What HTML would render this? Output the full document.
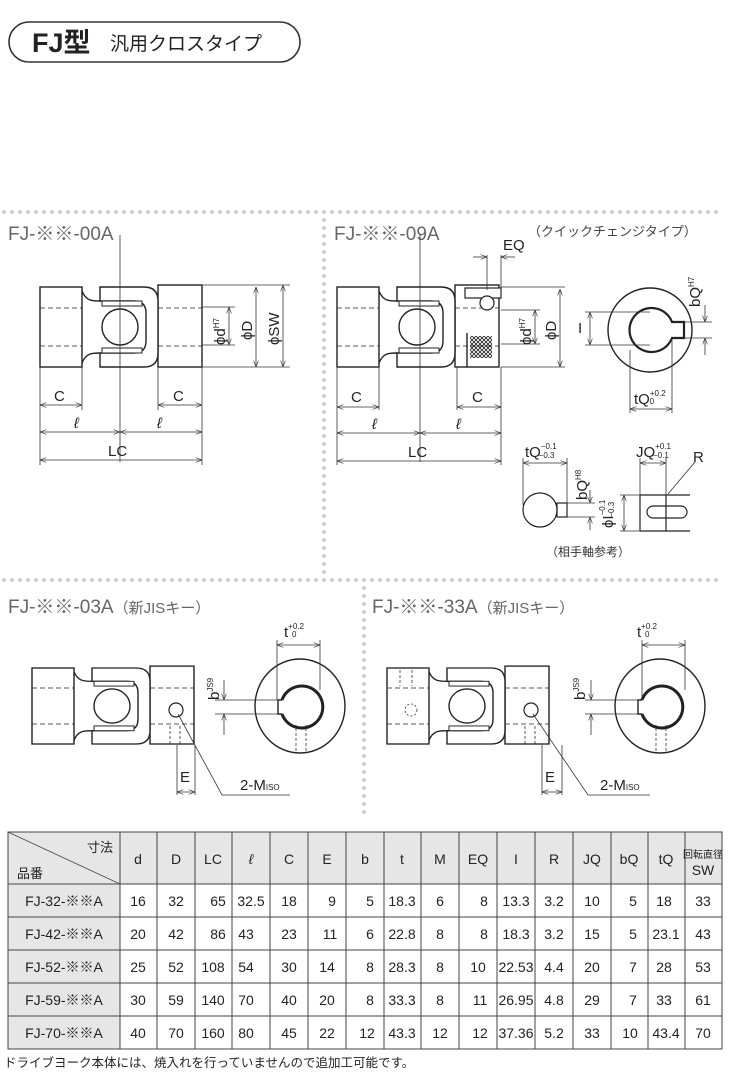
<!DOCTYPE html>
<html><head><meta charset="utf-8"><style>
body{margin:0;background:#fff;}
svg{display:block;font-family:"Liberation Sans","Noto Sans CJK JP",sans-serif;}
.t{fill:#222;font-size:15px;}
.ttl{fill:#666;font-size:19px;}
</style></head><body>
<svg width="735" height="1088" viewBox="0 0 735 1088" xmlns="http://www.w3.org/2000/svg">
<defs>
<marker id="a" markerWidth="8" markerHeight="6" refX="8" refY="3" orient="auto-start-reverse"><path d="M0,0 L8,3 L0,6" fill="none" stroke="#333" stroke-width="0.8"/></marker>
<pattern id="dh" width="8" height="8" patternUnits="userSpaceOnUse"><circle cx="4" cy="4" r="2" fill="#cfcfcf"/></pattern>
<pattern id="xh" width="4" height="4" patternUnits="userSpaceOnUse"><path d="M0,0 L4,4 M4,0 L0,4" stroke="#222" stroke-width="0.8"/></pattern>
<g id="joint" fill="none" stroke="#222" stroke-width="1.4">
<rect x="0" y="-40" width="42" height="80"/>
<path d="M42,-36 C46,-26 52,-26 60,-26 M42,36 C46,26 52,26 60,26"/>
<rect x="118" y="-42" width="44" height="82"/>
<path d="M60,-40 H104 Q118,-40 118,-26 V26 Q118,40 104,40 H60 V26 H94 Q106,26 106,14 V-14 Q106,-26 94,-26 H60 Z" fill="#fff"/>
<rect x="62" y="-26" width="40" height="5" fill="#fff" stroke-width="1"/>
<rect x="62" y="21" width="40" height="5" fill="#fff" stroke-width="1"/>
<circle cx="80" cy="0" r="18" fill="#fff"/>
<path d="M0,-19 H42 M0,19 H42 M118,-19 H162 M118,19 H162" stroke-dasharray="5,3" stroke-width="0.8"/>
</g>
</defs>

<!-- header -->
<rect x="9" y="22" width="291" height="40" rx="20" fill="none" stroke="#333" stroke-width="1.6"/>
<text x="32" y="52" style="font-size:27px;font-weight:bold" fill="#222">FJ型</text>
<text x="110" y="50" style="font-size:19px" fill="#222">汎用クロスタイプ</text>

<!-- dotted separators -->
<rect x="0" y="209" width="718" height="8" fill="url(#dh)"/>
<rect x="318" y="217" width="8" height="363" fill="url(#dh)"/>
<rect x="0" y="577" width="718" height="8" fill="url(#dh)"/>
<rect x="361" y="585" width="8" height="230" fill="url(#dh)"/>

<!-- titles -->
<text class="ttl" x="8" y="240">FJ-※※-00A</text>
<text class="ttl" x="334" y="240">FJ-※※-09A</text>
<text x="528" y="236" style="font-size:13px" fill="#444">（クイックチェンジタイプ）</text>
<text class="ttl" x="8" y="613">FJ-※※-03A<tspan style="font-size:15px">（新JISキー）</tspan></text>
<text class="ttl" x="372" y="613">FJ-※※-33A<tspan style="font-size:15px">（新JISキー）</tspan></text>

<g stroke="#333" stroke-width="0.8" fill="none">
<!-- drawing 1 -->
<use href="#joint" x="40" y="327"/>
<line x1="120" y1="235" x2="120" y2="462"/>
<line x1="202" y1="285" x2="290" y2="285"/><line x1="202" y1="367" x2="290" y2="367"/>
<line x1="202" y1="307" x2="235" y2="307"/><line x1="202" y1="345" x2="235" y2="345"/>
<line x1="229" y1="307" x2="229" y2="345" marker-start="url(#a)" marker-end="url(#a)"/>
<line x1="256" y1="287" x2="256" y2="367" marker-start="url(#a)" marker-end="url(#a)"/>
<line x1="283" y1="285" x2="283" y2="367" marker-start="url(#a)" marker-end="url(#a)"/>
<line x1="40" y1="367" x2="40" y2="465"/><line x1="82" y1="367" x2="82" y2="410"/>
<line x1="158" y1="367" x2="158" y2="410"/><line x1="202" y1="367" x2="202" y2="465"/>
<line x1="40" y1="405" x2="82" y2="405" marker-start="url(#a)" marker-end="url(#a)"/>
<line x1="158" y1="405" x2="202" y2="405" marker-start="url(#a)" marker-end="url(#a)"/>
<line x1="40" y1="432" x2="120" y2="432" marker-start="url(#a)" marker-end="url(#a)"/>
<line x1="120" y1="432" x2="202" y2="432" marker-start="url(#a)" marker-end="url(#a)"/>
<line x1="40" y1="460" x2="202" y2="460" marker-start="url(#a)" marker-end="url(#a)"/>

<!-- drawing 2 -->
<use href="#joint" x="337" y="327"/>
<rect x="465" y="288" width="36" height="10" fill="#fff" stroke="#222" stroke-width="1.2"/>
<circle cx="487" cy="303" r="7" fill="#fff" stroke="#222" stroke-width="1.2"/>
<rect x="470" y="336" width="22" height="22" fill="url(#xh)" stroke="none"/>
<line x1="467" y1="333" x2="467" y2="367" stroke="#222" stroke-width="1.4"/>
<line x1="420" y1="235" x2="420" y2="462"/>
<line x1="487" y1="255" x2="487" y2="290"/><line x1="501" y1="255" x2="501" y2="290"/>
<line x1="473" y1="257" x2="487" y2="257" marker-end="url(#a)"/><line x1="515" y1="257" x2="501" y2="257" marker-end="url(#a)"/>
<line x1="501" y1="287" x2="565" y2="287"/><line x1="501" y1="367" x2="565" y2="367"/>
<line x1="501" y1="310" x2="540" y2="310"/><line x1="501" y1="344" x2="540" y2="344"/>
<line x1="535" y1="310" x2="535" y2="344" marker-start="url(#a)" marker-end="url(#a)"/>
<line x1="560" y1="289" x2="560" y2="367" marker-start="url(#a)" marker-end="url(#a)"/>
<line x1="337" y1="367" x2="337" y2="465"/><line x1="379" y1="367" x2="379" y2="410"/>
<line x1="457" y1="367" x2="457" y2="410"/><line x1="501" y1="367" x2="501" y2="465"/>
<line x1="337" y1="407" x2="379" y2="407" marker-start="url(#a)" marker-end="url(#a)"/>
<line x1="457" y1="407" x2="501" y2="407" marker-start="url(#a)" marker-end="url(#a)"/>
<line x1="337" y1="433" x2="420" y2="433" marker-start="url(#a)" marker-end="url(#a)"/>
<line x1="420" y1="433" x2="501" y2="433" marker-start="url(#a)" marker-end="url(#a)"/>
<line x1="337" y1="461" x2="501" y2="461" marker-start="url(#a)" marker-end="url(#a)"/>
<!-- end view -->
<circle cx="650" cy="330" r="42" stroke="#222" stroke-width="1.4"/>
<path d="M672,322 A22,22 0 1 0 672,338 H684 V322 Z" stroke="#222" stroke-width="2.2" fill="#fff"/>
<line x1="585" y1="312" x2="650" y2="312"/><line x1="585" y1="345" x2="650" y2="345"/>
<line x1="590" y1="312" x2="590" y2="345" marker-start="url(#a)" marker-end="url(#a)"/>
<line x1="684" y1="322" x2="712" y2="322"/><line x1="684" y1="338" x2="712" y2="338"/>
<line x1="705" y1="305" x2="705" y2="322" marker-end="url(#a)"/><line x1="705" y1="355" x2="705" y2="338" marker-end="url(#a)"/>
<line x1="630" y1="350" x2="630" y2="413"/><line x1="672" y1="340" x2="672" y2="413"/>
<line x1="630" y1="409" x2="672" y2="409" marker-start="url(#a)" marker-end="url(#a)"/>
<!-- mating shaft -->
<circle cx="540" cy="510" r="17" stroke="#222" stroke-width="1.2"/>
<rect x="557" y="503" width="10" height="14" stroke="#222" stroke-width="1.2"/>
<line x1="523" y1="458" x2="523" y2="505"/><line x1="567" y1="458" x2="567" y2="503"/>
<line x1="523" y1="463" x2="567" y2="463" marker-start="url(#a)" marker-end="url(#a)"/>
<line x1="567" y1="503" x2="595" y2="503"/><line x1="567" y1="517" x2="595" y2="517"/>
<line x1="590" y1="490" x2="590" y2="503" marker-end="url(#a)"/><line x1="590" y1="530" x2="590" y2="517" marker-end="url(#a)"/>
<path d="M640,495 H690 M640,531 H690 M640,495 V531 M666,495 V531" stroke="#222" stroke-width="1.2"/>
<rect x="647" y="506" width="40" height="12" rx="6" stroke="#222" stroke-width="1.2"/>
<line x1="620" y1="495" x2="640" y2="495"/><line x1="620" y1="531" x2="640" y2="531"/>
<line x1="624" y1="495" x2="624" y2="531" marker-start="url(#a)" marker-end="url(#a)"/>
<line x1="640" y1="458" x2="640" y2="495"/><line x1="666" y1="458" x2="666" y2="495"/>
<line x1="640" y1="463" x2="666" y2="463" marker-start="url(#a)" marker-end="url(#a)"/>
<line x1="695" y1="462" x2="668" y2="494"/>

<!-- drawing 3 -->
<use href="#joint" x="32" y="706" transform="translate(32 706) scale(1 0.95) translate(-32 -706)"/>
<circle cx="176" cy="710" r="7" stroke="#222" stroke-width="1.2"/>
<path d="M170,726 V745 M180,726 V745" stroke-dasharray="3,2"/>
<line x1="177" y1="745" x2="177" y2="795"/><line x1="195" y1="745" x2="195" y2="795"/>
<line x1="177" y1="792" x2="195" y2="792" marker-start="url(#a)" marker-end="url(#a)"/>
<path d="M178,714 L222,795 H290"/>
<ellipse cx="300" cy="706" rx="45" ry="47" stroke="#222" stroke-width="1.4"/>
<path d="M282,714 A21,21 0 1 0 282,700" stroke="#222" stroke-width="3"/>
<path d="M282,700 H278 V714 H282" stroke="#222" stroke-width="1.4"/>
<line x1="215" y1="700" x2="282" y2="700"/><line x1="215" y1="714" x2="282" y2="714"/>
<line x1="224" y1="680" x2="224" y2="700" marker-end="url(#a)"/><line x1="224" y1="735" x2="224" y2="714" marker-end="url(#a)"/>
<line x1="277" y1="640" x2="277" y2="700"/><line x1="320" y1="640" x2="320" y2="690"/>
<line x1="277" y1="645" x2="320" y2="645" marker-start="url(#a)" marker-end="url(#a)"/>
<path d="M296,751 V725 M306,751 V725" stroke-dasharray="3,2"/>

<!-- drawing 4 -->
<use href="#joint" x="387" y="706" transform="translate(387 706) scale(1 0.95) translate(-387 -706)"/>
<circle cx="411" cy="710" r="6" stroke-dasharray="2,2"/>
<path d="M400,670 V686 M412,670 V686" stroke-dasharray="3,2"/>
<circle cx="531" cy="710" r="7" stroke="#222" stroke-width="1.2"/>
<path d="M525,726 V745 M535,726 V745" stroke-dasharray="3,2"/>
<line x1="542" y1="745" x2="542" y2="795"/><line x1="562" y1="745" x2="562" y2="795"/>
<line x1="542" y1="792" x2="562" y2="792" marker-start="url(#a)" marker-end="url(#a)"/>
<path d="M533,714 L588,795 H650"/>
<ellipse cx="660" cy="706" rx="45" ry="47" stroke="#222" stroke-width="1.4"/>
<path d="M642,714 A21,21 0 1 0 642,700" stroke="#222" stroke-width="3"/>
<path d="M642,700 H638 V714 H642" stroke="#222" stroke-width="1.4"/>
<line x1="585" y1="700" x2="642" y2="700"/><line x1="585" y1="714" x2="642" y2="714"/>
<line x1="591" y1="680" x2="591" y2="700" marker-end="url(#a)"/><line x1="591" y1="735" x2="591" y2="714" marker-end="url(#a)"/>
<line x1="642" y1="640" x2="642" y2="700"/><line x1="685" y1="640" x2="685" y2="690"/>
<line x1="642" y1="645" x2="685" y2="645" marker-start="url(#a)" marker-end="url(#a)"/>
<path d="M656,751 V725 M666,751 V725" stroke-dasharray="3,2"/>
</g>

<!-- drawing labels -->
<g class="t">
<text class="t" x="54" y="401">C</text><text class="t" x="173" y="401">C</text>
<text class="t" x="74" y="428" font-style="italic">ℓ</text><text class="t" x="157" y="428" font-style="italic">ℓ</text>
<text class="t" x="108" y="456">LC</text>
<text class="t" transform="translate(225 345) rotate(-90)">ϕd<tspan style="font-size:8px" dy="-6">H7</tspan></text>
<text class="t" transform="translate(252 340) rotate(-90)">ϕD</text>
<text class="t" transform="translate(279 345) rotate(-90)">ϕSW</text>

<text class="t" x="351" y="402">C</text><text class="t" x="472" y="402">C</text>
<text class="t" x="372" y="429" font-style="italic">ℓ</text><text class="t" x="456" y="429" font-style="italic">ℓ</text>
<text class="t" x="408" y="457">LC</text>
<text class="t" x="503" y="250">EQ</text>
<text class="t" transform="translate(531 345) rotate(-90)">ϕd<tspan style="font-size:8px" dy="-6">H7</tspan></text>
<text class="t" transform="translate(556 340) rotate(-90)">ϕD</text>
<text class="t" x="578" y="333">I</text>
<text class="t" transform="translate(700 307) rotate(-90)">bQ<tspan style="font-size:8px" dy="-6">H7</tspan></text>
<text class="t" x="634" y="404">tQ<tspan style="font-size:8px" dy="-8">+0.2</tspan><tspan style="font-size:8px" dx="-16" dy="8">0</tspan></text>
<text class="t" x="525" y="457">tQ<tspan style="font-size:8px" dy="-8">−0.1</tspan><tspan style="font-size:8px" dx="-18" dy="9">−0.3</tspan></text>
<text class="t" transform="translate(587 500) rotate(-90)">bQ<tspan style="font-size:8px" dy="-6">H8</tspan></text>
<text class="t" transform="translate(613 528) rotate(-90)">ϕI<tspan style="font-size:8px" dy="-8">−0.1</tspan><tspan style="font-size:8px" dx="-18" dy="9">−0.3</tspan></text>
<text class="t" x="636" y="457">JQ<tspan style="font-size:8px" dy="-8">+0.1</tspan><tspan style="font-size:8px" dx="-18" dy="9">−0.1</tspan></text>
<text class="t" x="693" y="462">R</text>
<text x="546" y="556" style="font-size:12px" fill="#333">（相手軸参考）</text>

<text class="t" transform="translate(219 700) rotate(-90)">b<tspan style="font-size:8px" dy="-6">JS9</tspan></text>
<text class="t" x="284" y="637">t<tspan style="font-size:8px" dy="-8">+0.2</tspan><tspan style="font-size:8px" dx="-12" dy="8">0</tspan></text>
<text class="t" x="180" y="782">E</text>
<text class="t" x="240" y="790">2-M<tspan style="font-size:8px">ISO</tspan></text>
<text class="t" transform="translate(585 700) rotate(-90)">b<tspan style="font-size:8px" dy="-6">JS9</tspan></text>
<text class="t" x="637" y="637">t<tspan style="font-size:8px" dy="-8">+0.2</tspan><tspan style="font-size:8px" dx="-12" dy="8">0</tspan></text>
<text class="t" x="545" y="782">E</text>
<text class="t" x="600" y="790">2-M<tspan style="font-size:8px">ISO</tspan></text>
</g>

<!-- table -->
<g>
<rect x="8" y="832" width="714" height="52" fill="#e6e6e6"/>
<rect x="8" y="884" width="112" height="165" fill="#e6e6e6"/>
<g stroke="#444" stroke-width="1" fill="none">
<rect x="8" y="832" width="714" height="217"/>
<line x1="8" y1="884" x2="722" y2="884"/>
<line x1="8" y1="917" x2="722" y2="917"/><line x1="8" y1="950" x2="722" y2="950"/>
<line x1="8" y1="983" x2="722" y2="983"/><line x1="8" y1="1016" x2="722" y2="1016"/>
<line x1="8" y1="832" x2="120" y2="884" stroke-width="0.7"/>
<path d="M120,832V1049 M157,832V1049 M195,832V1049 M232,832V1049 M270,832V1049 M308,832V1049 M346,832V1049 M384,832V1049 M421,832V1049 M459,832V1049 M497,832V1049 M535,832V1049 M573,832V1049 M611,832V1049 M648,832V1049 M685,832V1049"/>
</g>
<g fill="#222" font-size="14" text-anchor="middle">
<text x="100" y="852" font-size="13">寸法</text>
<text x="30" y="878" font-size="13">品番</text>
<text x="138" y="864">d</text><text x="176" y="864">D</text><text x="213" y="864">LC</text><text x="251" y="864" font-style="italic">ℓ</text><text x="289" y="864">C</text><text x="327" y="864">E</text><text x="365" y="864">b</text><text x="402" y="864">t</text><text x="440" y="864">M</text><text x="478" y="864">EQ</text><text x="516" y="864">I</text><text x="554" y="864">R</text><text x="592" y="864">JQ</text><text x="629" y="864">bQ</text><text x="666" y="864">tQ</text>
<text x="703" y="858" font-size="10">回転直径</text><text x="703" y="875">SW</text>
</g>
<g fill="#222" font-size="14">
<g text-anchor="middle"><text x="64" y="906">FJ-32-※※A</text><text x="64" y="939">FJ-42-※※A</text><text x="64" y="972">FJ-52-※※A</text><text x="64" y="1005">FJ-59-※※A</text><text x="64" y="1038">FJ-70-※※A</text></g>
<g text-anchor="middle">
<text x="138" y="906">16</text><text x="176" y="906">32</text><text x="218" y="906">65</text><text x="251" y="906">32.5</text><text x="289" y="906">18</text><text x="332" y="906">9</text><text x="370" y="906">5</text><text x="402" y="906">18.3</text><text x="440" y="906">6</text><text x="484" y="906">8</text><text x="516" y="906">13.3</text><text x="554" y="906">3.2</text><text x="592" y="906">10</text><text x="633" y="906">5</text><text x="664" y="906">18</text><text x="703" y="906">33</text>
<text x="138" y="939">20</text><text x="176" y="939">42</text><text x="218" y="939">86</text><text x="246" y="939">43</text><text x="289" y="939">23</text><text x="330" y="939">11</text><text x="370" y="939">6</text><text x="402" y="939">22.8</text><text x="440" y="939">8</text><text x="484" y="939">8</text><text x="516" y="939">18.3</text><text x="554" y="939">3.2</text><text x="592" y="939">15</text><text x="633" y="939">5</text><text x="666" y="939">23.1</text><text x="703" y="939">43</text>
<text x="138" y="972">25</text><text x="176" y="972">52</text><text x="213" y="972">108</text><text x="246" y="972">54</text><text x="289" y="972">30</text><text x="327" y="972">14</text><text x="370" y="972">8</text><text x="402" y="972">28.3</text><text x="440" y="972">8</text><text x="478" y="972">10</text><text x="516" y="972">22.53</text><text x="554" y="972">4.4</text><text x="592" y="972">20</text><text x="633" y="972">7</text><text x="664" y="972">28</text><text x="703" y="972">53</text>
<text x="138" y="1005">30</text><text x="176" y="1005">59</text><text x="213" y="1005">140</text><text x="246" y="1005">70</text><text x="289" y="1005">40</text><text x="327" y="1005">20</text><text x="370" y="1005">8</text><text x="402" y="1005">33.3</text><text x="440" y="1005">8</text><text x="480" y="1005">11</text><text x="516" y="1005">26.95</text><text x="554" y="1005">4.8</text><text x="592" y="1005">29</text><text x="633" y="1005">7</text><text x="664" y="1005">33</text><text x="703" y="1005">61</text>
<text x="138" y="1038">40</text><text x="176" y="1038">70</text><text x="213" y="1038">160</text><text x="246" y="1038">80</text><text x="289" y="1038">45</text><text x="327" y="1038">22</text><text x="367" y="1038">12</text><text x="402" y="1038">43.3</text><text x="440" y="1038">12</text><text x="480" y="1038">12</text><text x="516" y="1038">37.36</text><text x="554" y="1038">5.2</text><text x="592" y="1038">33</text><text x="630" y="1038">10</text><text x="666" y="1038">43.4</text><text x="703" y="1038">70</text>
</g>
</g>
<text x="4" y="1067" font-size="12.5" fill="#222">ドライブヨーク本体には、焼入れを行っていませんので追加工可能です。</text>
</g>
</svg>
</body></html>
